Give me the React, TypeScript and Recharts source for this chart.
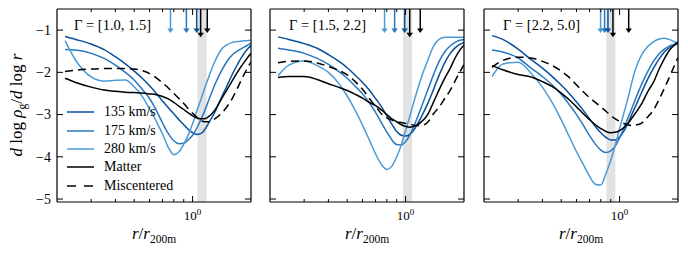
import { LineChart, Line, XAxis, YAxis, ReferenceArea, ReferenceLine, Legend } from "recharts";

// radius grid r / r200m shared by every curve
const R_GRID = [
  0.22, 0.25, 0.3, 0.35, 0.4, 0.45, 0.5, 0.55, 0.6, 0.65, 0.7, 0.75, 0.8, 0.85, 0.9,
  0.95, 1.0, 1.05, 1.1, 1.15, 1.2, 1.3, 1.4, 1.5, 1.6, 1.7, 1.8, 1.9, 2.0,
];

// Gamma = [1.0, 1.5]
const P1_135 = [-1.15, -1.22, -1.33, -1.46, -1.63, -1.8, -1.97, -2.14, -2.32, -2.5, -2.68, -2.84, -2.98, -3.12, -3.24, -3.35, -3.43, -3.47, -3.45, -3.37, -3.23, -2.95, -2.62, -2.33, -2.05, -1.82, -1.62, -1.47, -1.36];
const P1_175 = [-1.46, -1.47, -1.55, -1.67, -1.83, -2.0, -2.18, -2.4, -2.62, -2.9, -3.2, -3.45, -3.62, -3.69, -3.68, -3.6, -3.49, -3.33, -3.13, -2.93, -2.71, -2.3, -1.99, -1.75, -1.59, -1.5, -1.43, -1.37, -1.31];
const P1_280 = [-1.25, -1.72, -2.11, -2.21, -2.19, -2.18, -2.34, -2.57, -2.87, -3.16, -3.46, -3.78, -3.95, -3.88, -3.7, -3.48, -3.22, -2.92, -2.66, -2.4, -2.16, -1.75, -1.47, -1.35, -1.29, -1.27, -1.26, -1.25, -1.24];
const P1_MATTER = [-2.14, -2.24, -2.35, -2.42, -2.45, -2.47, -2.48, -2.49, -2.51, -2.53, -2.57, -2.63, -2.71, -2.8, -2.88, -2.96, -3.03, -3.08, -3.1, -3.1, -3.06, -2.9, -2.65, -2.42, -2.2, -2.0, -1.83, -1.68, -1.55];
const P1_MISC = [-1.98, -1.95, -1.92, -1.91, -1.91, -1.91, -1.92, -1.96, -2.03, -2.13, -2.25, -2.37, -2.5, -2.62, -2.74, -2.86, -2.97, -3.06, -3.13, -3.17, -3.17, -3.1, -2.98, -2.82, -2.62, -2.38, -2.14, -1.93, -1.75];

// Gamma = [1.5, 2.2]
const P2_135 = [-1.16, -1.22, -1.32, -1.43, -1.58, -1.73, -1.89, -2.07, -2.24, -2.42, -2.62, -2.81, -3.03, -3.23, -3.4, -3.49, -3.51, -3.47, -3.37, -3.23, -3.07, -2.74, -2.38, -2.03, -1.75, -1.55, -1.42, -1.34, -1.29];
const P2_175 = [-1.43, -1.47, -1.55, -1.67, -1.81, -1.97, -2.14, -2.33, -2.51, -2.72, -2.95, -3.19, -3.41, -3.6, -3.71, -3.72, -3.64, -3.49, -3.29, -3.07, -2.85, -2.42, -2.03, -1.71, -1.5, -1.37, -1.29, -1.24, -1.22];
const P2_280 = [-2.08, -1.83, -1.73, -1.84, -2.0, -2.25, -2.56, -2.9, -3.25, -3.6, -3.93, -4.18, -4.3, -4.22, -4.0, -3.72, -3.38, -3.05, -2.72, -2.42, -2.15, -1.72, -1.36, -1.21, -1.17, -1.17, -1.17, -1.17, -1.17];
const P2_MATTER = [-2.12, -2.1, -2.1, -2.17, -2.27, -2.35, -2.43, -2.52, -2.61, -2.71, -2.79, -2.89, -3.0, -3.1, -3.17, -3.24, -3.28, -3.3, -3.28, -3.24, -3.18, -3.0, -2.68, -2.38, -2.12, -1.9, -1.66, -1.48, -1.35];
const P2_MISC = [-1.77, -1.74, -1.73, -1.78, -1.86, -1.95, -2.06, -2.22, -2.4, -2.62, -2.8, -2.98, -3.08, -3.13, -3.17, -3.19, -3.21, -3.23, -3.25, -3.26, -3.26, -3.18, -2.97, -2.8, -2.6, -2.42, -2.2, -2.0, -1.82];

// Gamma = [2.2, 5.0]
const P3_135 = [-1.13, -1.22, -1.45, -1.7, -1.9, -2.1, -2.3, -2.5, -2.7, -2.9, -3.1, -3.28, -3.43, -3.54, -3.6, -3.6, -3.53, -3.4, -3.22, -3.02, -2.83, -2.47, -2.15, -1.89, -1.68, -1.52, -1.42, -1.36, -1.32];
const P3_175 = [-1.47, -1.52, -1.66, -1.9, -2.1, -2.3, -2.52, -2.76, -3.0, -3.25, -3.5, -3.7, -3.84, -3.9, -3.86, -3.74, -3.55, -3.33, -3.1, -2.88, -2.66, -2.28, -1.97, -1.73, -1.56, -1.45, -1.38, -1.34, -1.32];
const P3_280 = [-2.1, -1.8, -1.76, -2.02, -2.35, -2.72, -3.12, -3.52, -3.88, -4.18, -4.46, -4.65, -4.67, -4.4, -4.08, -3.72, -3.33, -2.98, -2.64, -2.28, -1.96, -1.58, -1.38, -1.27, -1.21, -1.19, -1.22, -1.27, -1.32];
const P3_MATTER = [-1.84, -1.94, -2.05, -2.11, -2.22, -2.34, -2.49, -2.65, -2.82, -2.98, -3.12, -3.24, -3.33, -3.4, -3.43, -3.42, -3.38, -3.31, -3.22, -3.1, -2.98, -2.74, -2.45, -2.22, -1.92, -1.68, -1.49, -1.37, -1.28];
const P3_MISC = [-1.88, -1.72, -1.64, -1.66, -1.74, -1.84, -1.97, -2.12, -2.3, -2.46, -2.6, -2.71, -2.82, -2.92, -3.02, -3.1, -3.16, -3.21, -3.24, -3.26, -3.25, -3.2, -3.05, -2.88, -2.64, -2.38, -2.13, -1.88, -1.65];

const GAMMA_LABELS = ["[1.0, 1.5]", "[1.5, 2.2]", "[2.2, 5.0]"];
// shaded r / r200m interval per panel
const BANDS = [
  [1.06, 1.18],
  [0.97, 1.08],
  [0.855, 0.95],
];
// splashback arrows: 280, 175, 135 km/s, matter, miscentered
const ARROWS = [
  [0.769, 0.929, 1.05, 1.1, 1.19],
  [0.779, 0.878, 0.989, 1.05, 1.19],
  [0.798, 0.837, 0.871, 0.924, 1.114],
];

const X_TICKS = [0.3, 0.4, 0.5, 0.6, 0.7, 0.8, 0.9, 1];
const Y_TICKS = [-5, -4, -3, -2, -1];

const DARK = "#0b4f9c";
const MID = "#2878be";
const LIGHT = "#4b9bd6";
const FONT = "'Liberation Serif', 'DejaVu Serif', serif";

const PANEL_DATA = [
  [P1_135, P1_175, P1_280, P1_MATTER, P1_MISC],
  [P2_135, P2_175, P2_280, P2_MATTER, P2_MISC],
  [P3_135, P3_175, P3_280, P3_MATTER, P3_MISC],
];

// axes take 1px each, so margins are one pixel short of the plot box
const LAYOUT = [
  { left: 0, width: 260, margin: { top: 8, right: 8, bottom: 52, left: 56 } },
  { left: 260, width: 214, margin: { top: 8, right: 9, bottom: 52, left: 9 } },
  { left: 474, width: 214, margin: { top: 8, right: 9, bottom: 52, left: 9 } },
];

const bottomTick = (props: any) => {
  const { x, y, payload } = props;
  const major = payload.value === 1;
  return (
    <g>
      <line x1={x} y1={y} x2={x} y2={y - (major ? 6 : 3)} stroke="#000" />
      {major && (
        <text x={x} y={y + 18} textAnchor="middle" fontFamily={FONT} fontSize={13} fill="#000">
          10<tspan dy={-5} fontSize={9}>0</tspan>
        </text>
      )}
    </g>
  );
};

const topTick = (props: any) => {
  const { x, y, payload } = props;
  const major = payload.value === 1;
  return <line x1={x} y1={y} x2={x} y2={y + (major ? 6 : 3)} stroke="#000" />;
};

const leftTick = (showLabel: boolean) => (props: any) => {
  const { x, y, payload } = props;
  return (
    <g>
      <line x1={x} y1={y} x2={x + 6} y2={y} stroke="#000" />
      {showLabel && (
        <text x={x - 6} y={y} dy="0.35em" textAnchor="end" fontFamily={FONT} fontSize={14} fill="#000">
          {"\u2212" + Math.abs(payload.value)}
        </text>
      )}
    </g>
  );
};

const rightTick = (props: any) => {
  const { x, y } = props;
  return <line x1={x} y1={y} x2={x - 6} y2={y} stroke="#000" />;
};

const arrowShape = (color: string) => (p: any) => {
  const { x1, y1, x2, y2 } = p;
  return (
    <g>
      <line x1={x1} y1={y1} x2={x2} y2={y2 - 4} stroke={color} strokeWidth={1.5} />
      <polygon points={`${x2 - 3.2},${y2 - 4.5} ${x2 + 3.2},${y2 - 4.5} ${x2},${y2}`} fill={color} />
    </g>
  );
};

const renderLegend = (props: any) => (
  <div style={{ fontFamily: FONT, fontSize: 14, color: "#000" }}>
    {(props.payload || []).map((e: any) => (
      <div key={e.value} style={{ display: "flex", alignItems: "center", height: 18.4 }}>
        <svg width={27} height={6}>
          <line
            x1={0}
            y1={3}
            x2={27}
            y2={3}
            stroke={e.color}
            strokeWidth={1.5}
            strokeDasharray={e.value === "Miscentered" ? "9 8" : undefined}
          />
        </svg>
        <span style={{ marginLeft: 10, whiteSpace: "nowrap" }}>{e.value}</span>
      </div>
    ))}
  </div>
);

function Panel({ idx }: { idx: number }) {
  const [v135, v175, v280, matter, misc] = PANEL_DATA[idx];
  const rows = R_GRID.map((r, i) => ({
    r,
    v135: v135[i],
    v175: v175[i],
    v280: v280[i],
    matter: matter[i],
    misc: misc[i],
  }));
  const { left, width, margin } = LAYOUT[idx];
  const arrows = ARROWS[idx];
  const arrowColors = [LIGHT, MID, DARK, "#000", "#000"];
  const arrowTips = [-1.07, -1.07, -1.07, -1.17, -1.07];
  const lineProps = { type: "monotone" as const, dot: false, strokeWidth: 1.5, isAnimationActive: false };
  const axisLine = { stroke: "#000", strokeWidth: 1.2 };

  return (
    <div style={{ position: "absolute", left, top: 0 }}>
      <LineChart width={width} height={255} data={rows} margin={margin}>
        <XAxis
          dataKey="r"
          type="number"
          scale="log"
          domain={[0.2, 2]}
          allowDataOverflow
          ticks={X_TICKS}
          interval={0}
          height={1}
          tickSize={0}
          tickMargin={0}
          tick={bottomTick}
          tickLine={false}
          axisLine={axisLine}
        />
        <XAxis
          xAxisId="top"
          orientation="top"
          dataKey="r"
          type="number"
          scale="log"
          domain={[0.2, 2]}
          allowDataOverflow
          ticks={X_TICKS}
          interval={0}
          height={1}
          tickSize={0}
          tickMargin={0}
          tick={topTick}
          tickLine={false}
          axisLine={axisLine}
        />
        <YAxis
          type="number"
          domain={[-5.07, -0.5]}
          allowDataOverflow
          ticks={Y_TICKS}
          interval={0}
          width={1}
          tickSize={0}
          tickMargin={0}
          tick={leftTick(idx === 0)}
          tickLine={false}
          axisLine={axisLine}
        />
        <YAxis
          yAxisId="right"
          orientation="right"
          type="number"
          domain={[-5.07, -0.5]}
          allowDataOverflow
          ticks={Y_TICKS}
          interval={0}
          width={1}
          tickSize={0}
          tickMargin={0}
          tick={rightTick}
          tickLine={false}
          axisLine={axisLine}
        />
        <ReferenceArea x1={BANDS[idx][0]} x2={BANDS[idx][1]} fill="#e2e2e2" fillOpacity={1} stroke="none" />
        <Line dataKey="v135" name="135 km/s" stroke={DARK} {...lineProps} />
        <Line dataKey="v175" name="175 km/s" stroke={MID} {...lineProps} />
        <Line dataKey="v280" name="280 km/s" stroke={LIGHT} {...lineProps} />
        <Line dataKey="matter" name="Matter" stroke="#000" {...lineProps} />
        <Line dataKey="misc" name="Miscentered" stroke="#000" strokeDasharray="8 5" {...lineProps} />
        {arrows.map((r, i) => (
          <ReferenceLine
            key={i}
            segment={[
              { x: r, y: -0.5 },
              { x: r, y: arrowTips[i] },
            ]}
            ifOverflow="visible"
            shape={arrowShape(arrowColors[i])}
          />
        ))}
        {idx === 0 && (
          <Legend
            layout="vertical"
            align="center"
            verticalAlign="middle"
            content={renderLegend}
            wrapperStyle={{ left: 67, top: 103, width: "auto", height: "auto" }}
          />
        )}
      </LineChart>
    </div>
  );
}

const PLOT_CENTERS = [154, 367, 581];
const GAMMA_X = [74, 289, 503];

export default function App() {
  return (
    <div style={{ position: "absolute", left: 0, top: 0, width: 688, height: 255, background: "#fff" }}>
      {[0, 1, 2].map((i) => (
        <Panel key={i} idx={i} />
      ))}
      <svg
        width={688}
        height={255}
        style={{ position: "absolute", left: 0, top: 0, pointerEvents: "none" }}
        fontFamily={FONT}
        fill="#000"
      >
        {GAMMA_LABELS.map((g, i) => (
          <text key={g} x={GAMMA_X[i]} y={30} fontSize={14.5}>
            {"\u0393 = " + g}
          </text>
        ))}
        {PLOT_CENTERS.map((cx) => (
          <text key={cx} x={cx} y={239} fontSize={17} textAnchor="middle">
            <tspan fontStyle="italic">r</tspan>/<tspan fontStyle="italic">r</tspan>
            <tspan dy={4} fontSize={11.5}>200m</tspan>
          </text>
        ))}
        <text transform="translate(22,105) rotate(-90)" fontSize={17} textAnchor="middle">
          <tspan fontStyle="italic">d</tspan>
          {" log "}
          <tspan fontStyle="italic">ρ</tspan>
          <tspan dy={4} fontSize={11.5}>g</tspan>
          <tspan dy={-4}>/</tspan>
          <tspan fontStyle="italic">d</tspan>
          {" log "}
          <tspan fontStyle="italic">r</tspan>
        </text>
      </svg>
    </div>
  );
}
